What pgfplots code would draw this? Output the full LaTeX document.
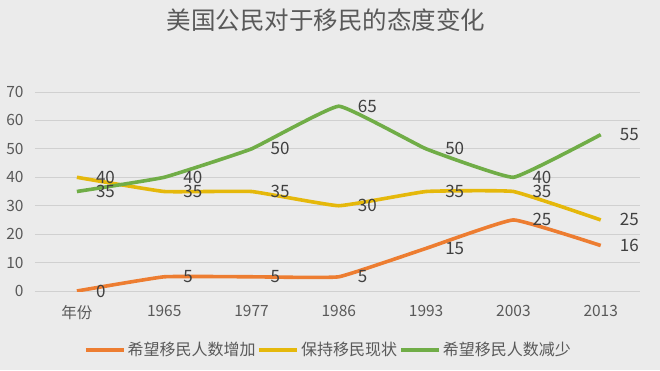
\documentclass[border=0pt]{standalone}
\usepackage{pgfplots}
\pgfplotsset{compat=1.18}
\usepackage{fontspec}
\setmainfont{Noto Sans CJK SC}
\definecolor{bg}{RGB}{235,235,235}
\definecolor{gridc}{RGB}{208,208,208}
\definecolor{txt}{RGB}{89,89,89}
\definecolor{lab}{RGB}{64,64,64}
\definecolor{cor}{RGB}{237,125,49}
\definecolor{cye}{RGB}{229,184,11}
\definecolor{cgr}{RGB}{112,173,71}
\begin{document}
\begin{tikzpicture}
\fill[bg] (-35pt,-79pt) rectangle (625pt,291pt);
\begin{axis}[
  scale only axis,
  width=605pt, height=199pt,
  xmin=-0.48, xmax=6.45,
  ymin=0, ymax=70,
  xtick={0,...,6},
  xticklabels={年份,1965,1977,1986,1993,2003,2013},
  ytick={0,10,...,70},
  ymajorgrids,
  grid style={gridc, line width=0.8pt},
  axis line style={draw=none},
  major tick length=0pt,
  tick label style={font=\fontsize{15.5}{17}\selectfont, text=txt},
  /pgf/number format/assume math mode=true,
  xticklabel style={yshift=-11pt},
  yticklabel style={xshift=-8pt},
  every axis plot/.append style={line width=3.6pt, smooth, tension=0.18, line join=round},
  nodes near coords,
  every node near coord/.append style={font=\fontsize{17}{18}\selectfont, text=lab, anchor=west, xshift=14pt},
  legend style={at={(axis description cs:0.485,-0.295)}, anchor=center, draw=none, fill=none,
    legend columns=3, font=\fontsize{16}{18}\selectfont, text=txt,
    /tikz/every even column/.append style={column sep=0pt}},
  legend cell align=left,
  legend image code/.code={\draw[#1, line width=3.6pt] (0pt,0pt) -- (38pt,0pt);},
]
\addplot[cor] coordinates {(0,0) (1,5) (2,5) (3,5) (4,15) (5,25) (6,16)};
\addplot[cye] coordinates {(0,40) (1,35) (2,35) (3,30) (4,35) (5,35) (6,25)};
\addplot[cgr] coordinates {(0,35) (1,40) (2,50) (3,65) (4,50) (5,40) (6,55)};
\legend{希望移民人数增加,保持移民现状,希望移民人数减少}
\end{axis}
\node[text=txt, font=\fontsize{24.5}{26}\selectfont] at (291pt,271pt) {美国公民对于移民的态度变化};
\end{tikzpicture}
\end{document}
